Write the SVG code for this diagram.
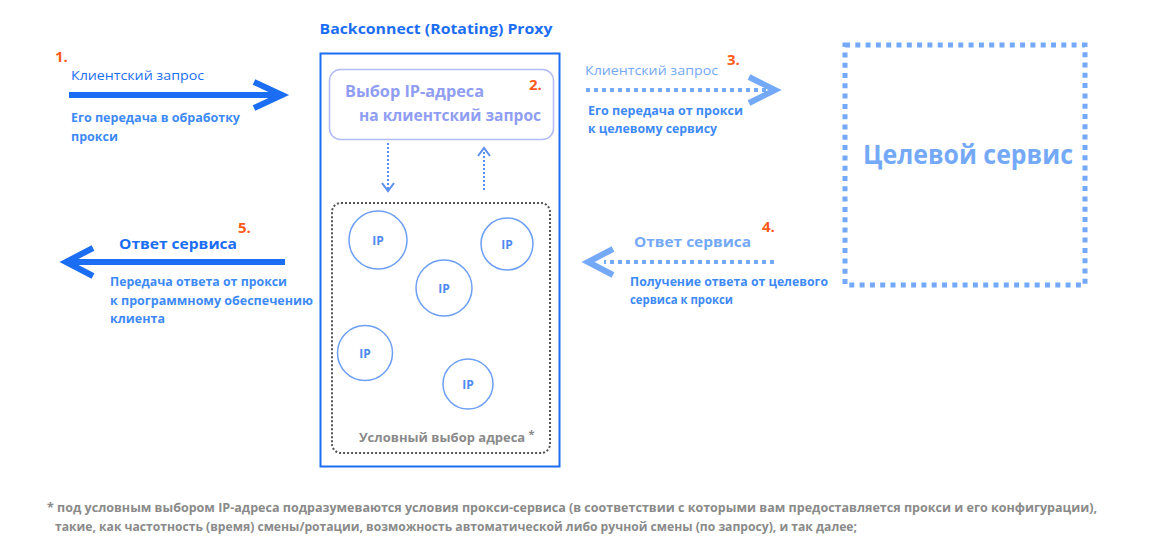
<svg xmlns="http://www.w3.org/2000/svg" width="1150" height="558" viewBox="0 0 1150 558">
<style>
text{font-family:"Open Sans","Liberation Sans",sans-serif;}
.b{font-weight:700;}
.sb{font-weight:700;}
.num{font-weight:700;fill:#ff5a1a;font-size:15px;}
.dark{fill:#1b6ef3;}
.mid{fill:#3d8af7;}
.light{fill:#74a9f8;}
.gray{fill:#8a8a8a;}
.ipc{fill:#fff;stroke:#6d9ff5;stroke-width:1.5;}
.ipt{fill:#4d8af0;font-weight:700;font-size:12px;text-anchor:middle;}
.solid{stroke:#1b6ef3;stroke-width:6;fill:none;}
.dots{stroke:#74a9f8;stroke-width:4;stroke-dasharray:4 4;fill:none;}
.chev{stroke:#74a9f8;stroke-width:6;fill:none;}
.small{stroke:#5a8ff0;stroke-width:2;stroke-dasharray:2 2;fill:none;}
.smallh{stroke:#5a8ff0;stroke-width:2;fill:none;}
</style>

<g id="proxy">
  <text x="436" y="34" class="b dark" font-size="15" text-anchor="middle" textLength="233" lengthAdjust="spacingAndGlyphs">Backconnect (Rotating) Proxy</text>
  <rect x="320.5" y="53.5" width="239" height="413" fill="none" stroke="#1b6ef3" stroke-width="2"/>
</g>

<g id="ip-select">
  <rect x="329.5" y="69.5" width="224" height="70" rx="11" fill="#fff" stroke="#b3bbf7" stroke-width="1.5"/>
  <text x="345" y="97" class="b" fill="#8f9df2" font-size="16" textLength="139" lengthAdjust="spacingAndGlyphs">Выбор IP-адреса</text>
  <text x="359" y="121" class="b" fill="#8f9df2" font-size="16" textLength="182" lengthAdjust="spacingAndGlyphs">на клиентский запрос</text>
  <text x="529" y="90" class="num">2.</text>
</g>

<g id="pool">
  <rect x="332" y="203" width="218" height="250" rx="9" fill="none" stroke="#555" stroke-width="2" stroke-dasharray="2 2"/>
  <text x="359" y="442" class="b gray" font-size="13">Условный выбор адреса <tspan dy="-4" font-size="11">*</tspan></text>
</g>

<g id="ip1"><circle cx="378" cy="240" r="29" class="ipc"/><text x="378" y="245" class="ipt">IP</text></g>
<g id="ip2"><circle cx="507" cy="244" r="26" class="ipc"/><text x="507" y="249" class="ipt">IP</text></g>
<g id="ip3"><circle cx="444" cy="288" r="28" class="ipc"/><text x="444" y="293" class="ipt">IP</text></g>
<g id="ip4"><circle cx="365" cy="353" r="27.5" class="ipc"/><text x="365" y="358" class="ipt">IP</text></g>
<g id="ip5"><circle cx="468" cy="384" r="25" class="ipc"/><text x="468" y="389" class="ipt">IP</text></g>

<g id="target">
  <rect x="845" y="45" width="240" height="240" fill="none" stroke="#74a9f8" stroke-width="5" stroke-dasharray="5 5.3"/>
  <text x="968" y="164" class="b light" font-size="26" text-anchor="middle" textLength="210" lengthAdjust="spacingAndGlyphs">Целевой сервис</text>
</g>

<g id="connectors">
  <line x1="69" y1="95" x2="280" y2="95" class="solid"/>
  <polyline points="254,82 282,95 254,108" class="solid"/>
  <line x1="285" y1="262" x2="68" y2="262" class="solid"/>
  <polyline points="93,248 66,262 93,276" class="solid"/>
  <line x1="586" y1="90" x2="766" y2="90" class="dots"/>
  <polyline points="749,77 775,90 749,103" class="chev"/>
  <line x1="774" y1="262" x2="604" y2="262" class="dots"/>
  <polyline points="613,249 588,262 613,275" class="chev"/>
  <line x1="388" y1="143" x2="388" y2="190" class="small"/>
  <polyline points="382,183 388,191 394,183" class="smallh"/>
  <line x1="484" y1="190" x2="484" y2="150" class="small"/>
  <polyline points="478,156 484,148 490,156" class="smallh"/>
</g>

<g id="label1">
  <text x="55" y="62" class="num">1.</text>
  <text x="71" y="80" class="dark" font-size="13.5" textLength="133" lengthAdjust="spacingAndGlyphs">Клиентский запрос</text>
  <text x="71" y="122" class="sb mid" font-size="12.5" textLength="169" lengthAdjust="spacingAndGlyphs">Его передача в обработку</text>
  <text x="71" y="141" class="sb mid" font-size="12.5">прокси</text>
</g>

<g id="label3">
  <text x="727" y="65" class="num">3.</text>
  <text x="585" y="75" class="light" font-size="13.5" textLength="133" lengthAdjust="spacingAndGlyphs">Клиентский запрос</text>
  <text x="588" y="115" class="sb mid" font-size="12.5" textLength="155" lengthAdjust="spacingAndGlyphs">Его передача от прокси</text>
  <text x="588" y="133" class="sb mid" font-size="12.5" textLength="129" lengthAdjust="spacingAndGlyphs">к целевому сервису</text>
</g>

<g id="label4">
  <text x="762" y="232" class="num">4.</text>
  <text x="634" y="247" class="b light" font-size="15" textLength="117" lengthAdjust="spacingAndGlyphs">Ответ сервиса</text>
  <text x="630" y="286" class="sb mid" font-size="12.5" textLength="198" lengthAdjust="spacingAndGlyphs">Получение ответа от целевого</text>
  <text x="630" y="304" class="sb mid" font-size="12.5" textLength="103" lengthAdjust="spacingAndGlyphs">сервиса к прокси</text>
</g>

<g id="label5">
  <text x="238" y="233" class="num">5.</text>
  <text x="119" y="249" class="b dark" font-size="15" textLength="118" lengthAdjust="spacingAndGlyphs">Ответ сервиса</text>
  <text x="110" y="286" class="sb mid" font-size="12.5" textLength="177" lengthAdjust="spacingAndGlyphs">Передача ответа от прокси</text>
  <text x="110" y="305" class="sb mid" font-size="12.5" textLength="203" lengthAdjust="spacingAndGlyphs">к программному обеспечению</text>
  <text x="110" y="323" class="sb mid" font-size="12.5">клиента</text>
</g>

<g id="footnote">
  <text x="47" y="512" class="sb gray" font-size="13" textLength="1050" lengthAdjust="spacingAndGlyphs">* под условным выбором IP-адреса подразумеваются условия прокси-сервиса (в соответствии с которыми вам предоставляется прокси и его конфигурации),</text>
  <text x="55" y="531" class="sb gray" font-size="13" textLength="802" lengthAdjust="spacingAndGlyphs">такие, как частотность (время) смены/ротации, возможность автоматической либо ручной смены (по запросу), и так далее;</text>
</g>
</svg>
